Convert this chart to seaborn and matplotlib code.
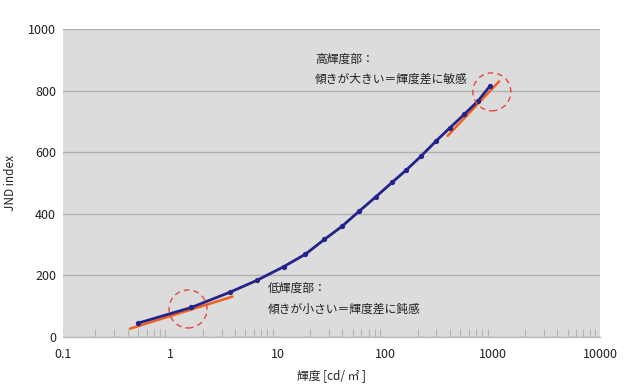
import matplotlib
matplotlib.use("Agg")
import matplotlib.pyplot as plt
import matplotlib.transforms as mtrans
from matplotlib.patches import Circle
from matplotlib.ticker import FixedLocator, NullFormatter
import seaborn as sns
import pandas as pd
import numpy as np

# ---- data ----
luminance = [0.50, 1.57, 3.56, 6.4, 11.3, 18.1, 27.2, 39.5, 57.5, 81.7,
             116, 157, 217, 297, 403, 545, 730, 951]
jnd_index = [45, 96, 145, 184, 228, 269, 317, 359, 409, 455,
             502, 542, 588, 636, 680, 723, 766, 816]

low_tangent_x = [0.42, 3.78]
low_tangent_y = [27, 131]
high_tangent_x = [381, 1151]
high_tangent_y = [653, 830]

low_circle_center = (1.46, 91)
high_circle_center = (984, 796)

x_ticks = [0.1, 1, 10, 100, 1000, 10000]
x_tick_labels = ["0.1", "1", "10", "100", "1000", "10000"]
y_ticks = [0, 200, 400, 600, 800, 1000]

high_text = ["高輝度部：", "傾きが大きい＝輝度差に敏感"]
low_text = ["低輝度部：", "傾きが小さい＝輝度差に鈍感"]

# ---- style ----
sns.set_theme(style="white")
plt.rcParams["font.family"] = ["Noto Sans CJK JP", "DejaVu Sans"]

fig = plt.figure(figsize=(6.4, 3.9), dpi=100)
ax = fig.add_axes([63 / 640, 53 / 390, 537 / 640, 308 / 390])
ax.set_facecolor("#dcdcdc")

df = pd.DataFrame({"lum": luminance, "jnd": jnd_index})
sns.lineplot(data=df, x="lum", y="jnd", ax=ax, color="#23238c", lw=2.0,
             marker="o", markersize=3.8, markeredgewidth=0, zorder=4)

sns.lineplot(x=low_tangent_x, y=low_tangent_y, ax=ax, color="#f0601e",
             lw=1.8, zorder=3)
sns.lineplot(x=high_tangent_x, y=high_tangent_y, ax=ax, color="#f0601e",
             lw=1.8, zorder=3)

ax.set_xscale("log")
ax.set_xlim(0.1, 10000)
ax.set_ylim(0, 1000)

ax.set_xticks(x_ticks)
ax.set_xticklabels(x_tick_labels)
ax.set_yticks(y_ticks)
ax.set_yticklabels([str(v) for v in y_ticks])

minor = [m * 10.0 ** e for e in range(-1, 4) for m in range(2, 10)]
ax.xaxis.set_minor_locator(FixedLocator(minor))
ax.xaxis.set_minor_formatter(NullFormatter())
ax.tick_params(axis="x", which="minor", direction="in", length=6, width=0.8,
               color="#b4b4b4", bottom=True)
ax.tick_params(axis="x", which="major", length=0, pad=8, labelsize=9,
               labelcolor="#222222")
ax.tick_params(axis="y", which="major", length=0, pad=5, labelsize=9,
               labelcolor="#222222")

ax.yaxis.grid(True, color="#b0b0b0", lw=1.0)
ax.xaxis.grid(False)
ax.set_axisbelow(True)
for s in ["top", "left", "right"]:
    ax.spines[s].set_visible(False)
ax.spines["bottom"].set_color("#bcbcbc")
ax.spines["bottom"].set_linewidth(1.0)

ax.set_xlabel("輝度 [cd/ ㎡ ]", fontsize=8.5, color="#222222", labelpad=6)
ax.set_ylabel("JND index", fontsize=8.5, color="#222222", labelpad=8)

# dashed circles (fixed pixel radius)
for cx, cy in [low_circle_center, high_circle_center]:
    tr = fig.dpi_scale_trans + mtrans.ScaledTranslation(cx, cy, ax.transData)
    ax.add_patch(Circle((0, 0), 0.19, transform=tr, fill=False,
                        edgecolor="#e8453c", lw=1.0, ls=(0, (4, 3)),
                        zorder=5, clip_on=False))

ax.text(0.469, 0.903, high_text[0], transform=ax.transAxes, fontsize=8.5,
        va="center", ha="left", color="#222222")
ax.text(0.469, 0.836, high_text[1], transform=ax.transAxes, fontsize=8.5,
        va="center", ha="left", color="#222222")
ax.text(0.382, 0.159, low_text[0], transform=ax.transAxes, fontsize=8.5,
        va="center", ha="left", color="#222222")
ax.text(0.382, 0.091, low_text[1], transform=ax.transAxes, fontsize=8.5,
        va="center", ha="left", color="#222222")

fig.savefig("out.png", dpi=100, facecolor="white")
